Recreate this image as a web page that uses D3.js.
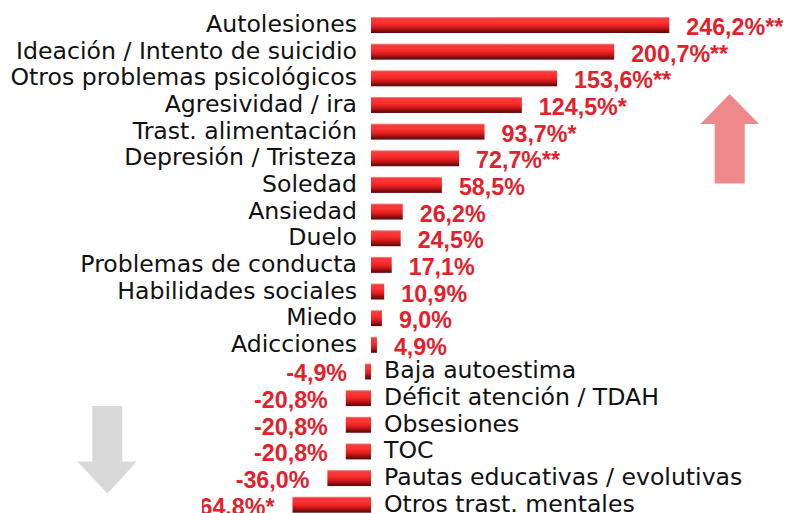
<!DOCTYPE html>
<html><head><meta charset="utf-8">
<script src="https://cdn.jsdelivr.net/npm/d3@7"></script>
<style>html,body{margin:0;padding:0;background:#fff;overflow:hidden}svg{display:block}</style>
</head><body>
<script>
const categories = ["Autolesiones","Ideación / Intento de suicidio","Otros problemas psicológicos","Agresividad / ira","Trast. alimentación","Depresión / Tristeza","Soledad","Ansiedad","Duelo","Problemas de conducta","Habilidades sociales","Miedo","Adicciones","Baja autoestima","Déficit atención / TDAH","Obsesiones","TOC","Pautas educativas / evolutivas","Otros trast. mentales"];
const values = [246.2,200.7,153.6,124.5,93.7,72.7,58.5,26.2,24.5,17.1,10.9,9.0,4.9,-4.9,-20.8,-20.8,-20.8,-36.0,-64.8];
const valueLabels = ["246,2%**","200,7%**","153,6%**","124,5%*","93,7%*","72,7%**","58,5%","26,2%","24,5%","17,1%","10,9%","9,0%","4,9%","-4,9%","-20,8%","-20,8%","-20,8%","-36,0%","-64.8%*"];

const W=787,H=513;
const svg=d3.select("body").append("svg").attr("width",W).attr("height",H);
const defs=svg.append("defs");
const g=defs.append("linearGradient").attr("id","barg").attr("x1",0).attr("y1",0).attr("x2",0).attr("y2",1);
[[0,"#e99a9a"],[0.1,"#f43a3a"],[0.3,"#ff3434"],[0.5,"#f02626"],[0.68,"#c81818"],[0.85,"#8a0e0e"],[1,"#5a0606"]].forEach(([o,c])=>g.append("stop").attr("offset",o).attr("stop-color",c));
defs.append("clipPath").attr("id","clipL").append("rect").attr("x",202).attr("y",0).attr("width",W).attr("height",H);

const x=d3.scaleLinear().domain([0,246.2]).range([371,669.3]);
const y=d3.scalePoint().domain(categories).range([25,504.7]);
const bh=16;

// arrows
const up=d3.path();
up.moveTo(729.7,94);up.lineTo(759,124);up.lineTo(744.7,124);up.lineTo(744.7,183.5);up.lineTo(714.7,183.5);up.lineTo(714.7,124);up.lineTo(700.3,124);up.closePath();
svg.append("path").attr("d",up.toString()).attr("fill","#ee8a8c");
const dn=d3.path();
dn.moveTo(92.3,406);dn.lineTo(122.3,406);dn.lineTo(122.3,461.5);dn.lineTo(136.7,461.5);dn.lineTo(107.5,493.5);dn.lineTo(77.3,461.5);dn.lineTo(92.3,461.5);dn.closePath();
svg.append("path").attr("d",dn.toString()).attr("fill","#d9d9d9");

const rows=svg.append("g").selectAll("g").data(categories).join("g");
rows.append("rect")
  .attr("x",(d,i)=>Math.min(x(0),x(values[i])))
  .attr("width",(d,i)=>Math.abs(x(values[i])-x(0)))
  .attr("y",d=>y(d)-bh/2).attr("height",bh)
  .attr("fill","url(#barg)");

const catFont="'DejaVu Sans', sans-serif";
const valFont="'Liberation Sans', Arial, sans-serif";
const tmp=svg.append("text").attr("font-family",catFont).attr("font-size",20).text("Ideación / Intento de suicidio");
const catSize=20*341/tmp.node().getComputedTextLength();
tmp.remove();
const tmp2=svg.append("text").attr("font-family",valFont).attr("font-weight","bold").attr("font-size",20).text("246,2%");
const valSize=20*79/tmp2.node().getComputedTextLength();
tmp2.remove();

rows.append("text")
  .attr("x",(d,i)=>values[i]>=0?x(0)-14:x(0)+13)
  .attr("y",d=>y(d)+7)
  .attr("text-anchor",(d,i)=>values[i]>=0?"end":"start")
  .attr("font-family",catFont).attr("font-size",catSize).attr("fill","#111")
  .text(d=>d);

rows.append("text")
  .attr("x",(d,i)=>values[i]>=0?x(values[i])+17:x(values[i])-18)
  .attr("y",d=>y(d)+10)
  .attr("text-anchor",(d,i)=>values[i]>=0?"start":"end")
  .attr("font-family",valFont).attr("font-weight","bold").attr("font-size",valSize).attr("fill","#e3212b")
  .attr("clip-path","url(#clipL)")
  .text((d,i)=>valueLabels[i]);
</script>
</body></html>
